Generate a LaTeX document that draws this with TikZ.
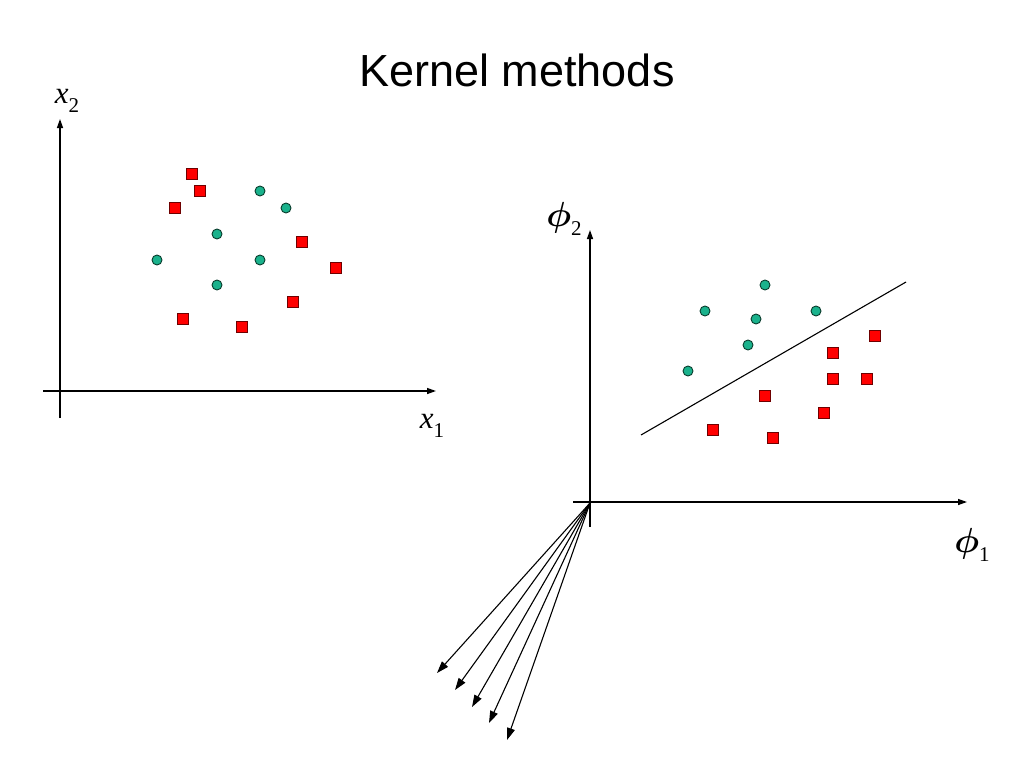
\documentclass[tikz,border=0pt]{standalone}
\usepackage{fontspec}
\usepackage{amsmath,amssymb}
\setmainfont{Liberation Serif}
\newfontfamily\titlefont{Liberation Sans}
\usetikzlibrary{arrows.meta}
\definecolor{sqred}{RGB}{255,0,0}
\definecolor{sqedge}{RGB}{110,0,0}
\definecolor{dotteal}{RGB}{26,178,140}
\definecolor{dotedge}{RGB}{10,60,45}
\newcommand{\subnum}[1]{\raisebox{-0.28em}{\fontsize{21}{21}\selectfont #1}}
\newcommand{\bigphi}{\scalebox{1.4}{\Huge$\boldsymbol{\phi}$}}
\begin{document}
\begin{tikzpicture}[x=1pt,y=-1pt,
  axis/.style={line width=1.3pt,-{Triangle[length=9pt,width=6pt]}},
  ray/.style={line width=1.1pt,-{Triangle[length=12pt,width=8pt]}},
  sq/.style={draw=sqedge,fill=sqred,line width=0.9pt,minimum size=10.5pt,inner sep=0pt,rectangle},
  dot/.style={draw=dotedge,fill=dotteal,line width=0.9pt,minimum size=10pt,inner sep=0pt,circle},
  lbl/.style={font=\fontsize{31}{31}\selectfont,inner sep=0pt}]
\useasboundingbox (0,0) rectangle (1024,768);
\node[font=\titlefont\fontsize{45}{45}\selectfont] (title) at (517,70) {Kernel methods};
% left axes
\coordinate (lyb) at (60,418); \coordinate (lyt) at (60,119);
\coordinate (lxl) at (43,391); \coordinate (lxr) at (436,391);
\draw[axis] (lyb) -- (lyt);
\draw[axis] (lxl) -- (lxr);
\node[lbl] (lx2) at (67,101) {\textit{x}\subnum{2}};
\node[lbl] (lx1) at (432,426) {\textit{x}\subnum{1}};
% left markers
\foreach \n/\p in {a/{192,174},b/{200,191},c/{175,208},d/{302,242},e/{336,268},f/{293,302},g/{183,319},h/{242,327}}
  \node[sq] (ls\n) at (\p) {};
\foreach \n/\p in {a/{260,191},b/{286,208},c/{217,234},d/{157,260},e/{260,260},f/{217,285}}
  \node[dot] (lc\n) at (\p) {};
% right axes
\coordinate (O) at (590,503);
\coordinate (ryb) at (590,527); \coordinate (ryt) at (590,230);
\coordinate (rxl) at (573,502); \coordinate (rxr) at (967,502);
\draw[axis] (ryb) -- (ryt);
\draw[axis] (rxl) -- (rxr);
\node[lbl] (rp2) at (564,219) {\bigphi\subnum{2}};
\node[lbl] (rp1) at (972,545) {\bigphi\subnum{1}};
% separating line
\coordinate (sa) at (641,435); \coordinate (sb) at (906,282);
\draw[line width=1.1pt] (sa) -- (sb);
% right markers
\foreach \n/\p in {a/{765,285},b/{705,311},c/{756,319},d/{816,311},e/{748,345},f/{688,371}}
  \node[dot] (rc\n) at (\p) {};
\foreach \n/\p in {a/{875,336},b/{833,353},c/{833,379},d/{867,379},e/{765,396},f/{824,413},g/{713,430},h/{773,438}}
  \node[sq] (rs\n) at (\p) {};
% rays
\foreach \n/\p in {1/{437,673},2/{455,690},3/{472,707},4/{489,723},5/{507,740}}
  {\coordinate (t\n) at (\p); \draw[ray] (O) -- (t\n);}
\end{tikzpicture}
\end{document}
